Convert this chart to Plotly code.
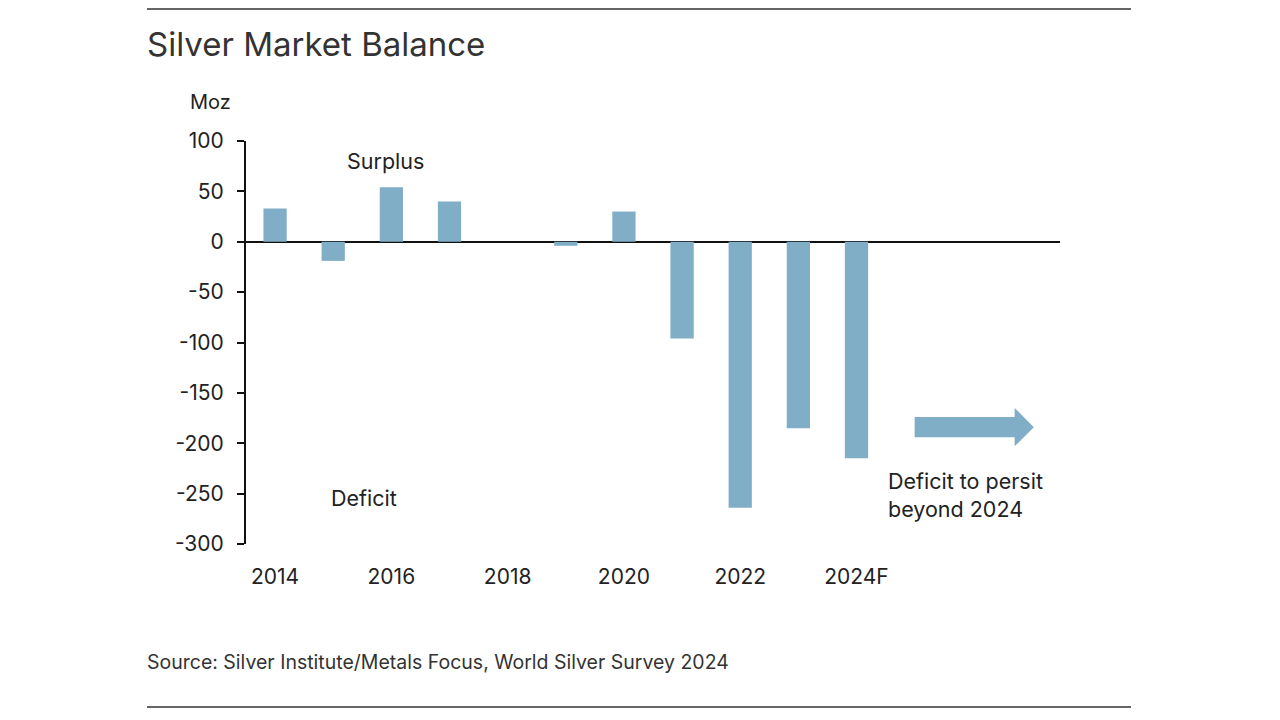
import plotly.graph_objects as go

years = ["2014", "2015", "2016", "2017", "2018", "2019", "2020", "2021", "2022", "2023", "2024F"]
balance = [33, -19, 54, 40, 0, -4, 30, -96, -264, -185, -215]
tick_years = ["2014", "2016", "2018", "2020", "2022", "2024F"]
y_ticks = [100, 50, 0, -50, -100, -150, -200, -250, -300]

BAR = "#80aec7"
TXT = "#222222"
FONT = "Inter"

xpos = list(range(len(years)))
tickpos = [years.index(t) for t in tick_years]

L, R, T, B = 238, 228, 133, 184
H = 720
plot_h = H - T - B
plot_w = 1280 - L - R


def py(pix):
    # screen pixel (page has 8px body margin) -> paper y
    return (H - B - (pix - 8)) / plot_h


def px(pix):
    return (pix - 8 - L) / plot_w


fig = go.Figure()
fig.add_trace(go.Bar(x=xpos, y=balance, marker=dict(color=BAR, line=dict(width=0)),
                     width=0.4, showlegend=False, hoverinfo="x+y"))

fig.update_layout(
    width=1280, height=720,
    paper_bgcolor="white", plot_bgcolor="white",
    margin=dict(l=L, r=R, t=T, b=B),
    font=dict(family=FONT, color=TXT, size=21),
    xaxis=dict(range=[-0.5, 13.5], tickvals=tickpos, ticktext=tick_years,
               showline=False, showgrid=False, zeroline=False, ticks="",
               ticklabelstandoff=18, tickfont=dict(size=21, color=TXT)),
    yaxis=dict(range=[-300, 100], tickvals=y_ticks, ticktext=[str(v) for v in y_ticks],
               showline=True, linecolor="#111", linewidth=2, ticks="outside",
               ticklen=7, tickcolor="#111", tickwidth=2, showgrid=False,
               zeroline=True, zerolinecolor="#111", zerolinewidth=2,
               ticklabelstandoff=9, tickfont=dict(size=21, color=TXT)),
    bargap=0.6,
)

# top and bottom rules
for yy in [9, 707]:
    fig.add_shape(type="line", xref="paper", yref="paper", x0=px(147), x1=px(1131),
                  y0=py(yy), y1=py(yy), line=dict(color="#666", width=2))

# arrow
fig.add_shape(type="path", xref="x", yref="y",
              path="M 11.0,-174 L 12.72,-174 L 12.72,-165 L 13.05,-184 L 12.72,-203 L 12.72,-194 L 11.0,-194 Z",
              fillcolor=BAR, line=dict(width=0))

fig.add_annotation(text="Silver Market Balance", xref="paper", yref="paper",
                   x=px(145), y=py(44), xanchor="left", yanchor="middle",
                   showarrow=False, font=dict(size=33, color="#333", family=FONT))
fig.add_annotation(text="Moz", xref="paper", yref="paper", x=px(210), y=py(102),
                   xanchor="center", yanchor="middle", showarrow=False, font=dict(size=20))
fig.add_annotation(text="Surplus", x=1.9, y=80, xref="x", yref="y", showarrow=False,
                   xanchor="center", yanchor="middle", font=dict(size=21.5))
fig.add_annotation(text="Deficit", x=1.53, y=-254, xref="x", yref="y", showarrow=False,
                   xanchor="center", yanchor="middle", font=dict(size=21.5))
fig.add_annotation(text="Deficit to persit<br>beyond 2024", x=(886 - 275) / 58.14, y=-251,
                   xref="x", yref="y", showarrow=False, xanchor="left", yanchor="middle",
                   align="left", font=dict(size=21.5))
fig.add_annotation(text="Source: Silver Institute/Metals Focus, World Silver Survey 2024",
                   xref="paper", yref="paper", x=px(145), y=py(662),
                   xanchor="left", yanchor="middle", showarrow=False,
                   font=dict(size=19.5, color="#333"))

fig.write_html("out.html")
